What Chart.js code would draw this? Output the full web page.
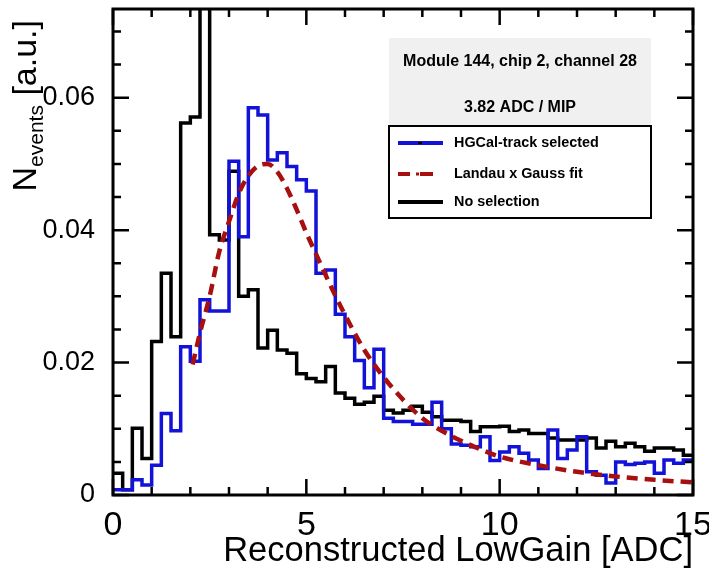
<!DOCTYPE html>
<html>
<head>
<meta charset="utf-8">
<script src="https://cdn.jsdelivr.net/npm/chart.js@4/dist/chart.umd.min.js"></script>
<style>
  html, body { margin: 0; padding: 0; background: #fff; }
  #wrap { width: 709px; height: 571px; }
</style>
</head>
<body>
<div id="wrap"><canvas id="c" width="709" height="571"></canvas></div>
<script>
// histogram binning: 60 bins of 0.25 ADC from 0 to 15
const binWidth = 0.25;

// HGCal-track selected (blue), one value per bin
const selectedVals = [
  0.0008, 0.0008, 0.0023, 0.0015, 0.0045, 0.0123, 0.0097, 0.0224, 0.0202, 0.0295,
  0.0278, 0.0278, 0.0504, 0.0390, 0.0585, 0.0574, 0.0506, 0.0517, 0.0496, 0.0476,
  0.0459, 0.0335, 0.0340, 0.0273, 0.0239, 0.0203, 0.0162, 0.0220, 0.0116, 0.0111,
  0.0111, 0.0107, 0.0107, 0.0140, 0.0100, 0.0077, 0.0075, 0.0073, 0.0088, 0.0052,
  0.0065, 0.0073, 0.0063, 0.0053, 0.0040, 0.0098, 0.0055, 0.0068, 0.0088, 0.0035,
  0.0030, 0.0018, 0.0050, 0.0046, 0.0048, 0.0050, 0.0033, 0.0053, 0.0048, 0.0053
];

// No selection (black), one value per bin
const noSelVals = [
  0.0033, 0.0008, 0.0101, 0.0055, 0.0232, 0.0335, 0.0239, 0.0562, 0.0571, 0.0900,
  0.0393, 0.0385, 0.0489, 0.0300, 0.0310, 0.0222, 0.0249, 0.0219, 0.0214, 0.0183,
  0.0176, 0.0171, 0.0194, 0.0154, 0.0146, 0.0137, 0.0140, 0.0149, 0.0128, 0.0124,
  0.0128, 0.0134, 0.0125, 0.0118, 0.0113, 0.0113, 0.0111, 0.0096, 0.0103, 0.0103,
  0.0104, 0.0096, 0.0098, 0.0093, 0.0093, 0.0086, 0.0083, 0.0083, 0.0083, 0.0086,
  0.0071, 0.0081, 0.0073, 0.0078, 0.0073, 0.0066, 0.0071, 0.0071, 0.0068, 0.0060
];

// Landau x Gauss fit curve
const fitX = [2.06, 2.25, 2.5, 2.75, 3.0, 3.25, 3.5, 3.75, 4.0, 4.25, 4.5, 4.75, 5.0, 5.25, 5.5,
  5.75, 6.0, 6.5, 7.0, 7.5, 8.0, 8.5, 9.0, 9.5, 10.0, 11.0, 12.0, 13.0, 14.0, 15.0];
const fitY = [0.0197, 0.0245, 0.0300, 0.0368, 0.0413, 0.0455, 0.0482, 0.0497, 0.0500, 0.0488,
  0.0463, 0.0431, 0.0396, 0.0364, 0.0332, 0.0301, 0.0272, 0.0219, 0.0178, 0.0144,
  0.0116, 0.0097, 0.0082, 0.0069, 0.0058, 0.0045, 0.0035, 0.0028, 0.0023, 0.0019];

const xTicks = [0, 5, 10, 15];
const yTicks = [0, 0.02, 0.04, 0.06];
const yMax = 0.0734;

const legendLabels = ['HGCal-track selected', 'Landau x Gauss fit', 'No selection'];
const infoLines = ['Module 144, chip 2, channel 28', '3.82 ADC / MIP'];
const xTitle = 'Reconstructed LowGain [ADC]';

const BLUE = '#1212d8';
const RED = '#a80f0f';
const FONT = '"Liberation Sans", Arial, Helvetica, sans-serif';

// step points: value holds from the bin's low edge, plus closing point at 15
function histPoints(vals) {
  const pts = vals.map((v, i) => ({ x: i * binWidth, y: v }));
  pts.push({ x: vals.length * binWidth, y: vals[vals.length - 1] });
  return pts;
}

function fitFont(ctx, text, width, weight) {
  ctx.font = weight + ' 20px ' + FONT;
  const s = 20 * width / ctx.measureText(text).width;
  return weight + ' ' + s.toFixed(1) + 'px ' + FONT;
}

// frame, inward ticks on all four sides, titles, info box and legend
const decorations = {
  id: 'decorations',
  afterDatasetsDraw(chart) {
    const ctx = chart.ctx;
    const a = chart.chartArea;
    const xs = chart.scales.x, ys = chart.scales.y;
    ctx.save();
    ctx.strokeStyle = '#000';
    ctx.lineWidth = 3;
    ctx.strokeRect(a.left, a.top, a.right - a.left, a.bottom - a.top);

    ctx.lineWidth = 2.5;
    ctx.beginPath();
    for (let v = 0; v <= 15; v++) {
      const px = xs.getPixelForValue(v);
      const len = v % 5 === 0 ? 16 : 8;
      ctx.moveTo(px, a.bottom); ctx.lineTo(px, a.bottom - len);
      ctx.moveTo(px, a.top); ctx.lineTo(px, a.top + len);
    }
    for (let k = 0; k * 0.005 <= yMax; k++) {
      const py = ys.getPixelForValue(k * 0.005);
      const len = k % 4 === 0 ? 16 : 8;
      ctx.moveTo(a.left, py); ctx.lineTo(a.left + len, py);
      ctx.moveTo(a.right, py); ctx.lineTo(a.right - len, py);
    }
    ctx.stroke();
    ctx.restore();
  },
  afterDraw(chart) {
    const ctx = chart.ctx;
    const a = chart.chartArea;
    ctx.save();
    ctx.fillStyle = '#000';

    // x title, right aligned to the axis end
    ctx.font = fitFont(ctx, xTitle, 470, 'normal');
    ctx.textAlign = 'right';
    ctx.textBaseline = 'alphabetic';
    ctx.fillText(xTitle, a.right, 561);

    // y title N_events [a.u.], rotated, ending at the top of the axis
    ctx.translate(36, a.top + 11);
    ctx.rotate(-Math.PI / 2);
    ctx.textAlign = 'left';
    const big = '34px ' + FONT, small = '21px ' + FONT;
    ctx.font = big;
    const wN = ctx.measureText('N').width;
    const wRest = ctx.measureText(' [a.u.]').width;
    ctx.font = small;
    const wSub = ctx.measureText('events').width;
    let x0 = -(wN + wSub + wRest);
    ctx.font = big;
    ctx.fillText('N', x0, 0);
    ctx.font = small;
    ctx.fillText('events', x0 + wN, 7);
    ctx.font = big;
    ctx.fillText(' [a.u.]', x0 + wN + wSub, 0);
    ctx.setTransform(1, 0, 0, 1, 0, 0);

    // info box
    const bx = 389, bw = 262;
    ctx.fillStyle = '#f0f0f0';
    ctx.fillRect(bx, 38, bw, 88);
    ctx.fillStyle = '#000';
    ctx.textAlign = 'center';
    ctx.textBaseline = 'middle';
    ctx.font = fitFont(ctx, infoLines[0], 234, 'bold');
    ctx.fillText(infoLines[0], bx + bw / 2, 62);
    ctx.fillText(infoLines[1], bx + bw / 2, 108);

    // legend box
    ctx.fillStyle = '#fff';
    ctx.fillRect(bx, 126, bw, 92);
    ctx.strokeStyle = '#000';
    ctx.lineWidth = 2;
    ctx.strokeRect(bx, 126, bw, 92);

    const rows = [143, 174, 202];
    ctx.lineWidth = 4;
    // blue sample with marker
    ctx.strokeStyle = BLUE;
    ctx.beginPath(); ctx.moveTo(398, rows[0]); ctx.lineTo(443, rows[0]); ctx.stroke();
    ctx.fillStyle = '#000';
    ctx.fillRect(418, rows[0] - 1, 4, 2);
    // red dashed sample with marker
    ctx.strokeStyle = RED;
    ctx.beginPath();
    ctx.moveTo(398, rows[1]); ctx.lineTo(410, rows[1]);
    ctx.moveTo(420, rows[1]); ctx.lineTo(433, rows[1]);
    ctx.stroke();
    ctx.fillStyle = RED;
    ctx.fillRect(416, rows[1] - 1.5, 3, 3);
    // black sample
    ctx.strokeStyle = '#000';
    ctx.beginPath(); ctx.moveTo(398, rows[2]); ctx.lineTo(443, rows[2]); ctx.stroke();

    ctx.fillStyle = '#000';
    ctx.textAlign = 'left';
    ctx.font = fitFont(ctx, legendLabels[0], 145, 'bold');
    legendLabels.forEach((t, i) => ctx.fillText(t, 454, rows[i]));
    ctx.restore();
  }
};

new Chart(document.getElementById('c'), {
  type: 'line',
  data: {
    datasets: [
      {
        label: legendLabels[1],
        data: fitX.map((x, i) => ({ x: x, y: fitY[i] })),
        borderColor: RED,
        borderWidth: 4.5,
        borderDash: [11, 7],
        cubicInterpolationMode: 'monotone',
        pointRadius: 0,
        fill: false
      },
      {
        label: legendLabels[0],
        data: histPoints(selectedVals),
        borderColor: BLUE,
        borderWidth: 3.5,
        stepped: 'before',
        borderJoinStyle: 'miter',
        pointRadius: 0,
        fill: false
      },
      {
        label: legendLabels[2],
        data: histPoints(noSelVals),
        borderColor: '#000',
        borderWidth: 3.5,
        stepped: 'before',
        borderJoinStyle: 'miter',
        pointRadius: 0,
        fill: false
      }
    ]
  },
  options: {
    responsive: false,
    animation: false,
    devicePixelRatio: 1,
    layout: { padding: { top: 9, right: 16, left: 0, bottom: 0 } },
    plugins: { legend: { display: false }, tooltip: { enabled: false } },
    scales: {
      x: {
        type: 'linear',
        min: 0,
        max: 15,
        grid: { display: false },
        border: { display: false },
        afterBuildTicks: s => { s.ticks = xTicks.map(v => ({ value: v })); },
        ticks: { color: '#000', font: { family: FONT, size: 34 }, padding: 2, maxRotation: 0 },
        afterFit: s => { s.height = 76; s.paddingLeft = 0; s.paddingRight = 0; }
      },
      y: {
        type: 'linear',
        min: 0,
        max: yMax,
        grid: { display: false },
        border: { display: false },
        afterBuildTicks: s => { s.ticks = yTicks.map(v => ({ value: v })); },
        ticks: {
          color: '#000',
          font: { family: FONT, size: 27 },
          padding: 10,
          callback: v => (v === 0 ? '0' : v.toFixed(2))
        },
        afterFit: s => { s.width = 113; s.paddingTop = 0; s.paddingBottom = 0; }
      }
    }
  },
  plugins: [decorations]
});
</script>
</body>
</html>
